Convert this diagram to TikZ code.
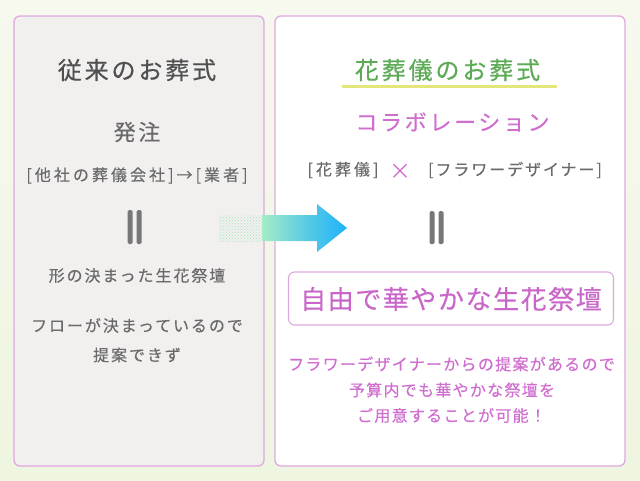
\documentclass[tikz,border=0pt]{standalone}
\usepackage{fontspec}
\setmainfont{Noto Sans CJK JP}
\newfontfamily\jpT[LetterSpace=12,FakeBold=0.5]{Noto Sans CJK JP}
\newfontfamily\jpA[LetterSpace=12,FakeBold=0.3]{Noto Sans CJK JP}
\newfontfamily\jpC[LetterSpace=19,FakeBold=0.3]{Noto Sans CJK JP}
\newfontfamily\jpP[LetterSpace=8,FakeBold=0.3]{Noto Sans CJK JP}
\newfontfamily\jpB[LetterSpace=6,FakeBold=0.3]{Noto Sans CJK JP}
\usetikzlibrary{patterns,shadings}
\definecolor{bgcol}{HTML}{F7F8EE}
\definecolor{bgcolb}{HTML}{EEF5E0}
\definecolor{leftfill}{HTML}{F2EFEF}
\definecolor{panelpink}{HTML}{DFA8DF}
\definecolor{titlegray}{HTML}{505050}
\definecolor{txtgray}{HTML}{6A6A6A}
\definecolor{barcol}{HTML}{777777}
\definecolor{greentxt}{HTML}{5DAB57}
\definecolor{uline}{HTML}{E3E678}
\definecolor{pinktxt}{HTML}{D06ED0}
\definecolor{boxtxt}{HTML}{C966C9}
\definecolor{mint}{HTML}{A6ECC6}
\definecolor{arrowblue}{HTML}{1EB2FA}
\definecolor{dotgreen}{HTML}{A4E8BC}
\tikzset{
  panel/.style={draw=panelpink, line width=1.3pt, rounded corners=6pt},
  base/.style={inner sep=0pt, anchor=center},
  ttl/.style={base, font=\jpT\fontsize{24}{28}\selectfont},
  sub/.style={base, font=\jpA\fontsize{22}{26}\selectfont},
  body/.style={base, font=\jpA\fontsize{16}{19}\selectfont, text=txtgray},
  brk/.style={base, font=\jpC\fontsize{16}{19}\selectfont, text=txtgray},
  para/.style={base, font=\jpP\fontsize{16}{19}\selectfont, text=pinktxt},
  eqbar/.style={fill=barcol, rounded corners=1.5pt},
}
\begin{document}
\begin{tikzpicture}[x=1pt,y=-1pt]
\useasboundingbox (0,0) rectangle (640,480);
% background
\shade[top color=bgcol, bottom color=bgcolb] (0,0) rectangle (640,480);
% panels
\path[panel, fill=leftfill] (14,16) rectangle (264,466);
\path[panel, fill=white] (275,16) rectangle (625,466);
% arrow
\fill[pattern=crosshatch dots, pattern color=dotgreen] (219,215) rectangle (262,241);
\shade[left color=mint, right color=arrowblue, middle color=mint!45!arrowblue]
  (262,215) -- (317,215) -- (317,204) -- (347,228) -- (317,252) -- (317,241) -- (262,241) -- cycle;
% left panel
\node[ttl, text=titlegray] (lt) at (137,70) {従来のお葬式};
\node[sub, text=txtgray] (order) at (137,132) {発注};
\node[brk] (chain) at (137,175.5) {[他社の葬儀会社]→[業者]};
\fill[eqbar] (127.7,210) rectangle (132.7,244);
\fill[eqbar] (136.7,210) rectangle (141.7,244);
\node[body] (fixed) at (137,275.5) {形の決まった生花祭壇};
\node[body] (flow1) at (137,325.5) {フローが決まっているので};
\node[body] (flow2) at (137,355) {提案できず};
% right panel
\node[ttl, text=greentxt] (rt) at (447.5,70) {花葬儀のお葬式};
\draw[uline, line width=3.3pt] (342,86.7) -- (556.5,86.7);
\node[sub, text=pinktxt] (collab) at (452.5,122) {コラボレーション};
\node[brk] (hana) at (343,170) {[花葬儀]};
\node[base, text=pinktxt, font=\fontsize{22}{26}\selectfont] (times) at (400,171.5) {×};
\node[body] (fd) at (515,170) {[フラワーデザイナー]};
\fill[eqbar] (429.5,211) rectangle (434.5,244);
\fill[eqbar] (438.5,211) rectangle (443.5,244);
\draw[panel, line width=1.1pt] (288.5,272) rectangle (613.5,325);
\node[base, text=boxtxt, font=\jpB\fontsize{26}{30}\selectfont] (free) at (451,299) {自由で華やかな生花祭壇};
\node[para] (p1) at (451.5,364) {フラワーデザイナーからの提案があるので};
\node[para] (p2) at (452,390) {予算内でも華やかな祭壇を};
\node[para] (p3) at (451.5,415.5) {ご用意することが可能！};
\end{tikzpicture}
\end{document}
